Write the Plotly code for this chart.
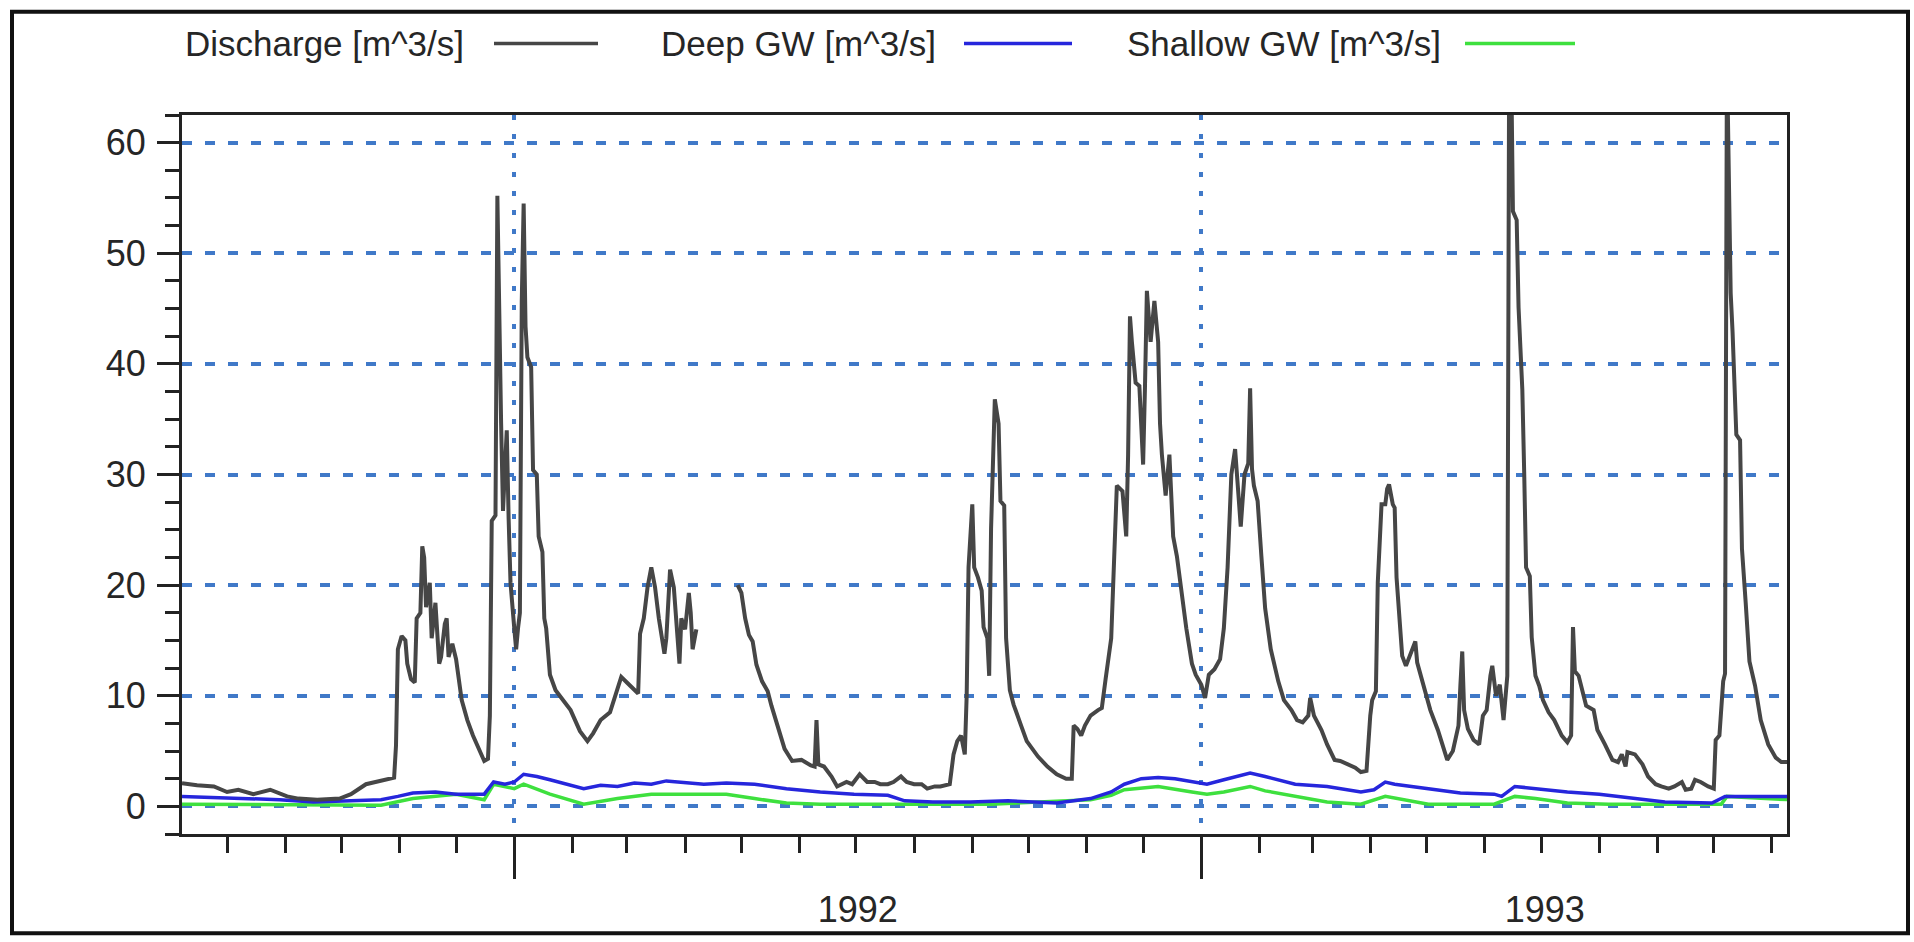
import pandas as pd
import plotly.graph_objects as go

START = "1991-07-08"
X_END = "1993-11-09"

# Discharge [m^3/s]  (day offset from START, value)
q_days = [0, 8, 17, 24, 30, 38, 47, 56, 62, 72, 84, 90, 98, 106, 113, 114, 115, 117, 119, 120,
          122, 124, 125, 127, 128, 129, 130, 132, 133, 135, 137, 138, 140, 141, 142, 144, 146, 149,
          152, 155, 159, 161, 163, 164, 165, 167, 168, 169, 170, 171, 173, 174, 175, 177, 178, 179,
          180, 181, 182, 183, 184, 186, 187, 189, 190, 192, 193, 194, 196, 199, 202, 207, 212, 216,
          219, 223, 228, 234, 237, 241, 243, 244, 246, 248, 250, 252, 254, 257, 258, 260, 262, 264,
          265, 266, 268, 270, 271, 272, 274, 275,
          296, 298, 300, 302, 304, 306, 309, 312, 314, 318, 321, 325, 330, 335, 337, 338, 339, 342,
          346, 349, 354, 357, 361, 365, 369, 372, 376, 379, 383, 386, 390, 394, 397, 401, 404, 409,
          411, 413, 415, 417, 418, 419, 421, 422, 424, 426, 427, 429, 430, 431, 433, 435, 436, 438,
          439, 441, 443, 447, 450, 456, 461, 466, 471, 474, 475, 477, 479, 481, 484, 488, 490, 492,
          495, 497, 498, 501, 503, 504, 505, 506, 508, 510, 512, 513, 514, 516, 518, 520, 521, 522,
          524, 526, 528, 530, 532, 535, 538, 540, 543, 545, 547, 550, 553, 555, 557, 559, 561, 562,
          564, 566, 568, 569, 570, 571, 573, 575, 577, 580, 584, 587, 591, 594, 597, 600, 601, 603,
          607, 610, 614, 617, 621, 625, 628, 631, 633, 634, 636, 637, 639, 641, 642, 643, 645, 646,
          647, 649, 650, 652, 654, 657, 658, 662, 665, 669, 672, 674, 677, 680, 681, 682, 683, 685,
          688, 691, 693, 695, 697, 698, 700, 702, 704, 706, 707, 708, 709, 711, 712, 713, 714, 715,
          716, 718, 719, 721, 723, 725, 728, 731, 735, 738, 740, 741, 742, 744, 746, 748, 752, 754,
          758, 762, 765, 767, 769, 770, 774, 778, 781, 785, 788, 792, 795, 799, 801, 804, 806, 809,
          813, 816, 817, 819, 821, 822, 823, 824, 825, 826, 828, 830, 831, 833, 835, 838, 841, 845,
          849, 852, 856]
q_vals = [2.1, 1.9, 1.8, 1.3, 1.5, 1.1, 1.5, 0.9, 0.7, 0.6, 0.7, 1.1, 2.0, 2.3, 2.6, 5.5, 14.2, 15.4, 15.0, 12.9,
          11.5, 11.2, 17.0, 17.5, 23.5, 22.5, 18.0, 20.2, 15.2, 18.4, 12.9, 13.5, 16.5, 17.0, 13.5, 14.7, 13.3, 9.6,
          7.8, 6.4, 5.0, 4.1, 4.3, 8.2, 25.8, 26.3, 55.2, 43.0, 34.6, 26.7, 34.0, 26.0, 20.2, 16.1, 14.2, 16.1,
          17.5, 45.7, 54.5, 43.4, 40.6, 39.7, 30.4, 30.0, 24.4, 23.0, 17.0, 16.1, 11.9, 10.5, 9.8, 8.7, 6.8, 5.9,
          6.6, 7.8, 8.5, 11.7, 11.2, 10.5, 10.2, 15.6, 17.0, 19.8, 21.6, 19.8, 17.0, 13.8, 15.2, 21.4, 19.8, 15.2,
          12.9, 17.0, 16.0, 19.3, 17.5, 14.2, 16.0, None,
          20.0, 19.3, 17.0, 15.5, 14.9, 12.8, 11.3, 10.4, 9.1, 6.9, 5.2, 4.1, 4.2, 3.7, 3.6, 7.8, 3.8, 3.6,
          2.7, 1.8, 2.2, 2.0, 2.9, 2.2, 2.2, 2.0, 2.0, 2.2, 2.7, 2.2, 2.0, 2.0, 1.6, 1.8, 1.8, 2.0,
          4.7, 5.9, 6.4, 4.7, 10.0, 21.6, 27.3, 21.6, 20.7, 19.5, 16.2, 15.2, 11.8, 25.1, 36.8, 34.6, 27.6, 27.2,
          15.2, 10.5, 9.2, 7.3, 5.9, 4.5, 3.6, 2.9, 2.5, 2.5, 7.3, 7.0, 6.4, 7.3, 8.2, 8.7, 8.9, 11.5,
          15.2, 24.4, 29.0, 28.5, 24.4, 31.8, 44.3, 42.0, 38.3, 38.0, 30.9, 38.0, 46.6, 42.0, 45.7, 42.0, 34.6, 31.8,
          28.1, 31.8, 24.4, 22.6, 19.8, 16.1, 12.9, 11.9, 11.0, 9.8, 11.9, 12.4, 13.3, 16.1, 21.6, 30.0, 32.3, 29.5,
          25.3, 30.0, 31.0, 37.8, 30.5, 29.0, 27.6, 22.6, 17.9, 14.2, 11.3, 9.6, 8.7, 7.8, 7.6, 8.2, 9.8, 8.2,
          6.9, 5.6, 4.2, 4.1, 3.8, 3.5, 3.1, 3.2, 8.2, 9.6, 10.4, 20.2, 27.3, 27.3, 28.7, 29.1, 27.3, 27.0,
          20.7, 16.2, 13.6, 12.7, 13.5, 14.9, 13.0, 10.4, 8.7, 6.9, 5.1, 4.2, 5.0, 7.3, 10.9, 14.0, 8.7, 7.0,
          6.0, 5.6, 8.2, 8.7, 11.8, 12.7, 10.0, 11.0, 7.8, 11.8, 68.0, 68.0, 53.8, 53.0, 45.1, 41.1, 37.7, 30.2,
          21.6, 20.8, 15.3, 11.8, 10.9, 9.6, 8.5, 7.8, 6.4, 5.8, 6.4, 16.2, 12.2, 11.8, 10.4, 9.1, 8.7, 6.9,
          5.6, 4.2, 4.0, 4.7, 3.6, 4.9, 4.7, 3.8, 2.7, 2.0, 1.8, 1.6, 1.8, 2.2, 1.5, 1.6, 2.4, 2.2,
          1.8, 1.6, 6.0, 6.4, 11.3, 12.0, 68.0, 58.4, 46.4, 42.9, 33.6, 33.1, 23.3, 18.4, 13.1, 10.9, 7.8, 5.6,
          4.4, 4.0, 4.0]

# Deep GW [m^3/s]
deep_days = [0, 18, 35, 52, 70, 88, 106, 115, 123, 135, 146, 161, 166, 172, 177, 182, 189, 196, 205, 214,
             223, 232, 241, 250, 258, 267, 278, 290, 305, 322, 340, 358, 376, 385, 400, 420, 440, 466, 484,
             495, 502, 511, 520, 529, 541, 546, 555, 562, 569, 577, 593, 610, 628, 635, 641, 646, 664, 681,
             699, 703, 710, 721, 738, 755, 773, 790, 815, 822, 856]
deep_vals = [0.9, 0.8, 0.7, 0.6, 0.4, 0.5, 0.6, 0.9, 1.2, 1.3, 1.1, 1.1, 2.2, 2.0, 2.2, 2.9, 2.7, 2.4, 2.0, 1.6,
             1.9, 1.8, 2.1, 2.0, 2.3, 2.2, 2.0, 2.1, 2.0, 1.6, 1.3, 1.1, 1.0, 0.5, 0.4, 0.4, 0.5, 0.3, 0.7,
             1.3, 2.0, 2.5, 2.6, 2.5, 2.2, 2.0, 2.4, 2.7, 3.0, 2.7, 2.0, 1.8, 1.3, 1.5, 2.2, 2.0, 1.6, 1.2,
             1.1, 0.9, 1.8, 1.6, 1.3, 1.1, 0.7, 0.4, 0.3, 0.9, 0.9]

# Shallow GW [m^3/s]
shal_days = [0, 60, 106, 123, 146, 161, 166, 177, 182, 196, 214, 232, 250, 270, 290, 305, 322, 340, 380,
             431, 484, 495, 502, 520, 538, 546, 555, 569, 577, 593, 610, 628, 641, 664, 699, 710, 721, 738,
             760, 820, 823, 856]
shal_vals = [0.2, 0.1, 0.1, 0.7, 1.1, 0.6, 2.0, 1.6, 2.0, 1.1, 0.2, 0.7, 1.1, 1.1, 1.1, 0.7, 0.3, 0.2, 0.2,
             0.2, 0.6, 1.0, 1.5, 1.8, 1.3, 1.1, 1.3, 1.8, 1.4, 0.9, 0.4, 0.2, 0.9, 0.2, 0.2, 0.9, 0.7, 0.3,
             0.2, 0.2, 0.9, 0.6]

y_ticks = [0, 10, 20, 30, 40, 50, 60]
legend_labels = ["Discharge [m^3/s]", "Deep GW [m^3/s]", "Shallow GW [m^3/s]"]
colors = ["#464646", "#2626dc", "#3ee03e"]


def to_dates(days):
    base = pd.Timestamp(START)
    return [base + pd.Timedelta(days=d) for d in days]


W, H = 1914, 942
L, R, T, B = 182, 1787, 115, 839


def px(x):
    return (x - L) / (R - L)


def py(y):
    return (B - y) / (B - T)


fig = go.Figure()
fig.add_trace(go.Scatter(x=to_dates(shal_days), y=shal_vals, mode="lines", name=legend_labels[2],
                         line=dict(color=colors[2], width=3.5), connectgaps=False))
fig.add_trace(go.Scatter(x=to_dates(deep_days), y=deep_vals, mode="lines", name=legend_labels[1],
                         line=dict(color=colors[1], width=3.5), connectgaps=False))
fig.add_trace(go.Scatter(x=to_dates(q_days), y=q_vals, mode="lines", name=legend_labels[0],
                         line=dict(color=colors[0], width=4), connectgaps=False))

grid_color = "#4079c8"
tick_font = dict(family="Liberation Sans, Arial, sans-serif", size=36, color="#262626")

fig.update_layout(
    width=W, height=H,
    margin=dict(l=L, r=W - R, t=T, b=H - B),
    paper_bgcolor="white", plot_bgcolor="white",
    showlegend=False,
    xaxis=dict(
        type="date", range=[START, X_END],
        tick0="1992-01-01", dtick="M12", tickformat="%Y", ticklabelmode="period",
        ticks="outside", ticklen=42, tickwidth=3, tickcolor="#222",
        showline=True, linewidth=3, linecolor="#222", mirror=True,
        showgrid=True, gridcolor=grid_color, gridwidth=3.5, griddash="5px,14px",
        tickfont=tick_font, zeroline=False,
        minor=dict(dtick="M1", ticks="outside", ticklen=16, tickwidth=3, tickcolor="#222", showgrid=False),
    ),
    yaxis=dict(
        range=[-2.5, 62.5], tickvals=y_ticks,
        ticks="outside", ticklen=22, tickwidth=3, tickcolor="#222",
        showline=True, linewidth=3, linecolor="#222", mirror=True,
        showgrid=True, gridcolor=grid_color, gridwidth=3.5, griddash="10px,13px",
        tickfont=tick_font, zeroline=False, ticklabelstandoff=4,
        minor=dict(dtick=2.5, ticks="outside", ticklen=14, tickwidth=3, tickcolor="#222", showgrid=False),
    ),
)

# custom legend: text followed by a line sample
legend_text_x = [183, 659, 1125]
legend_line_x = [(494, 598), (964, 1072), (1465, 1575)]
ly = 43
for lab, tx, (x0, x1), c in zip(legend_labels, legend_text_x, legend_line_x, colors):
    fig.add_annotation(text=lab, xref="paper", yref="paper", x=px(tx), y=py(ly),
                       xanchor="left", yanchor="middle", showarrow=False,
                       font=dict(family="Liberation Sans, Arial, sans-serif", size=35, color="#262626"))
    fig.add_shape(type="line", xref="paper", yref="paper", x0=px(x0), x1=px(x1), y0=py(ly), y1=py(ly),
                  line=dict(color=c, width=3.5))

# outer frame of the picture
fig.add_shape(type="rect", xref="paper", yref="paper", x0=px(12), x1=px(1908), y0=py(939), y1=py(11),
              line=dict(color="#111", width=4), layer="below")

fig.write_html("out.html", config={"displayModeBar": False},
               post_script="document.body.style.margin='0px';")
